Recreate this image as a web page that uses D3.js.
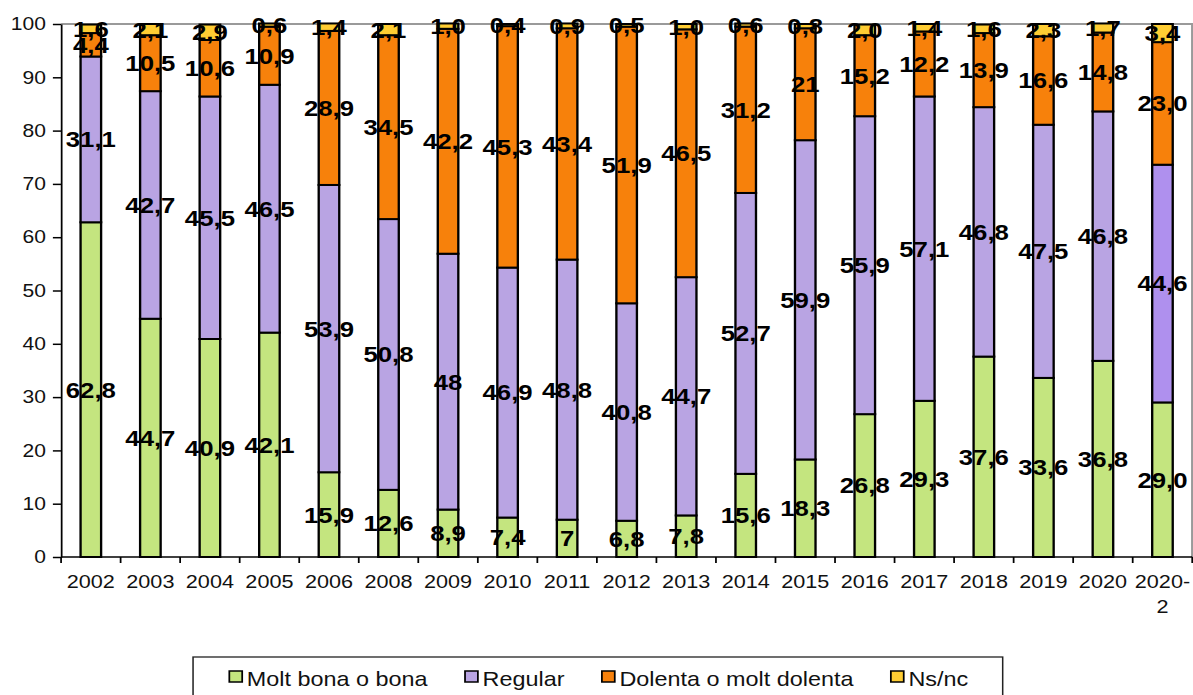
<!DOCTYPE html>
<html>
<head>
<meta charset="utf-8">
<script src="https://cdn.jsdelivr.net/npm/d3@7"></script>
<style>
    html, body { margin: 0; padding: 0; background: #fff; }
    svg { display: block; font-family: "Liberation Sans", Arial, sans-serif; }
</style>
</head>
<body>
<svg id="chart"></svg>
<script>
// ==========================================
// DATA (values as printed on the chart)
// ==========================================
const years = ["2002", "2003", "2004", "2005", "2006", "2008", "2009", "2010", "2011", "2012",
    "2013", "2014", "2015", "2016", "2017", "2018", "2019", "2020", "2020-2"];

const goodLabels = ["62,8", "44,7", "40,9", "42,1", "15,9", "12,6", "8,9", "7,4", "7", "6,8",
    "7,8", "15,6", "18,3", "26,8", "29,3", "37,6", "33,6", "36,8", "29,0"];
const regularLabels = ["31,1", "42,7", "45,5", "46,5", "53,9", "50,8", "48", "46,9", "48,8", "40,8",
    "44,7", "52,7", "59,9", "55,9", "57,1", "46,8", "47,5", "46,8", "44,6"];
const painLabels = ["4,4", "10,5", "10,6", "10,9", "28,9", "34,5", "42,2", "45,3", "43,4", "51,9",
    "46,5", "31,2", "21", "15,2", "12,2", "13,9", "16,6", "14,8", "23,0"];
const nsncLabels = ["1,6", "2,1", "2,9", "0,6", "1,4", "2,1", "1,0", "0,4", "0,9", "0,5",
    "1,0", "0,6", "0,8", "2,0", "1,4", "1,6", "2,3", "1,7", "3,4"];

const seriesNames = ["Molt bona o bona", "Regular", "Dolenta o molt dolenta", "Ns/nc"];
const seriesLabels = [goodLabels, regularLabels, painLabels, nsncLabels];
const seriesColors = ["#C4E57F", "#B9A4E3", "#F7810B", "#FFCD33"];
const yTicks = [0, 10, 20, 30, 40, 50, 60, 70, 80, 90, 100];

// ==========================================
// LAYOUT
// The original picture is stretched sideways, so draw in a narrower
// coordinate system and let the viewBox widen it.
// ==========================================
const W = 1193, H = 695;
const stretch = 1.17;
const VW = W / stretch;

const svg = d3.select("#chart")
    .attr("width", W)
    .attr("height", H)
    .attr("viewBox", `0 0 ${VW} ${H}`)
    .attr("preserveAspectRatio", "none");

const plot = { left: 52.2, right: 1019, top: 24, bottom: 557 };

const x = d3.scaleBand()
    .domain(years)
    .range([plot.left, plot.right])
    .paddingInner(0.655)
    .paddingOuter(0.3275);

const y = d3.scaleLinear()
    .domain([0, 100])
    .range([plot.bottom, plot.top]);

const toNum = s => +s.replace(",", ".");

// build stacked rows
const rows = years.map((yr, i) => {
    let acc = 0;
    return seriesLabels.map((labels, s) => {
        const v = toNum(labels[i]);
        const seg = { year: yr, series: s, y0: acc, y1: acc + v, label: labels[i] };
        acc += v;
        return seg;
    });
});
const segments = rows.flat();

// plot frame (gray top and right)
svg.append("path")
    .attr("d", `M${plot.left},${plot.top}H${plot.right}V${plot.bottom}`)
    .attr("fill", "none")
    .attr("stroke", "#9a9a9a")
    .attr("stroke-width", 2);

// bars
svg.append("g")
    .selectAll("rect")
    .data(segments)
    .join("rect")
    .attr("x", d => x(d.year))
    .attr("width", x.bandwidth())
    .attr("y", d => y(d.y1))
    .attr("height", d => y(d.y0) - y(d.y1))
    .attr("fill", d => (d.series === 1 && d.year === "2020-2") ? "#AF90EE" : seriesColors[d.series])
    .attr("stroke", "#000")
    .attr("stroke-width", 2);

// y axis
const yAxis = svg.append("g")
    .attr("transform", `translate(${plot.left},0)`)
    .call(d3.axisLeft(y).tickValues(yTicks).tickSize(7).tickPadding(6).tickSizeOuter(0));
yAxis.select(".domain").attr("stroke", "#000").attr("stroke-width", 1.5);
yAxis.selectAll(".tick line").attr("stroke", "#000").attr("stroke-width", 1.5);
yAxis.selectAll(".tick text")
    .attr("font-size", 18)
    .attr("font-family", "Liberation Sans, Arial, sans-serif")
    .attr("fill", "#111");

// x axis: line + ticks at band boundaries
const xAxis = svg.append("g");
xAxis.append("line")
    .attr("x1", plot.left).attr("x2", plot.right)
    .attr("y1", plot.bottom).attr("y2", plot.bottom)
    .attr("stroke", "#000").attr("stroke-width", 1.5);

const step = x.step();
const boundaries = d3.range(years.length + 1).map(i => plot.left + i * step);
xAxis.selectAll(".xtick")
    .data(boundaries)
    .join("line")
    .attr("class", "xtick")
    .attr("x1", d => d).attr("x2", d => d)
    .attr("y1", plot.bottom).attr("y2", plot.bottom + 6)
    .attr("stroke", "#000").attr("stroke-width", 1.5);

const xLabels = xAxis.selectAll(".xlabel")
    .data(years)
    .join("text")
    .attr("class", "xlabel")
    .attr("x", d => x(d) + x.bandwidth() / 2)
    .attr("y", 588)
    .attr("text-anchor", "middle")
    .attr("font-size", 18.5)
    .attr("fill", "#111");

// "2020-2" wraps onto two lines like the original
xLabels.each(function (d) {
    const t = d3.select(this);
    const parts = d.includes("-") ? [d.split("-")[0] + "-", d.split("-")[1]] : [d];
    parts.forEach((p, k) => {
        t.append("tspan")
            .attr("x", x(d) + x.bandwidth() / 2)
            .attr("dy", k === 0 ? 0 : 25)
            .text(p);
    });
});

// data labels
svg.append("g")
    .selectAll("text")
    .data(segments)
    .join("text")
    .attr("x", d => x(d.year) + x.bandwidth() / 2)
    .attr("y", d => y((d.y0 + d.y1) / 2))
    .attr("dy", "0.36em")
    .attr("text-anchor", "middle")
    .attr("font-size", 22)
    .attr("font-weight", "bold")
    .attr("fill", "#000")
    .text(d => d.label);

// ==========================================
// LEGEND
// ==========================================
const legend = svg.append("g");
legend.append("rect")
    .attr("x", 165).attr("y", 657)
    .attr("width", 692).attr("height", 60)
    .attr("fill", "#fff")
    .attr("stroke", "#222")
    .attr("stroke-width", 1.3);

let lx = 196;
seriesNames.forEach((name, i) => {
    legend.append("rect")
        .attr("x", lx).attr("y", 671)
        .attr("width", 11).attr("height", 11)
        .attr("fill", seriesColors[i])
        .attr("stroke", "#000")
        .attr("stroke-width", 1.5);
    const t = legend.append("text")
        .attr("x", lx + 15)
        .attr("y", 686)
        .attr("font-size", 20)
        .attr("fill", "#111")
        .text(name);
    lx += 15 + t.node().getComputedTextLength() + 32;
});
</script>
</body>
</html>
